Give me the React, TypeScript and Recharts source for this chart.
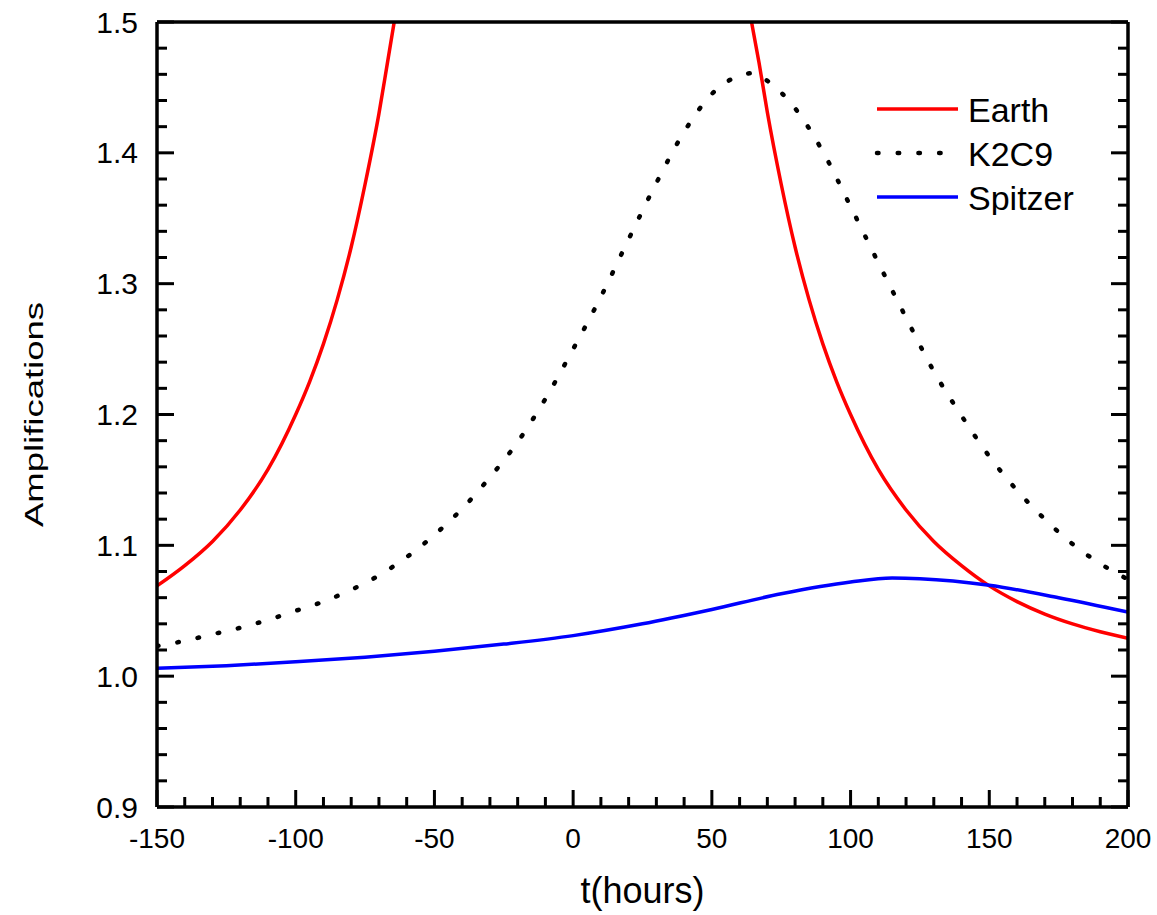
import { LineChart, Line, XAxis, YAxis, Legend, Label } from "recharts";

// axis ticks (major every 50 h / 0.1, minor every 10 h / 0.02)
const xTicks = [
  -150, -140, -130, -120, -110, -100, -90, -80, -70, -60, -50, -40, -30, -20, -10, 0,
  10, 20, 30, 40, 50, 60, 70, 80, 90, 100, 110, 120, 130, 140, 150, 160, 170, 180, 190, 200,
];
const yTicks = [
  0.9, 0.92, 0.94, 0.96, 0.98, 1.0, 1.02, 1.04, 1.06, 1.08, 1.1, 1.12, 1.14, 1.16, 1.18, 1.2,
  1.22, 1.24, 1.26, 1.28, 1.3, 1.32, 1.34, 1.36, 1.38, 1.4, 1.42, 1.44, 1.46, 1.48, 1.5,
];

// Earth (peak runs off the top of the frame)
const earthLeftT = [-150, -140, -130, -120, -110, -100, -95, -90, -85, -80, -75, -70, -67, -64.5];
const earthLeftA = [1.069, 1.0845, 1.103, 1.127, 1.158, 1.2, 1.225, 1.254, 1.288, 1.328, 1.376, 1.43, 1.468, 1.5];
const earthRightT = [64.3, 67, 70, 75, 80, 85, 90, 95, 100, 110, 120, 130, 140, 150, 160, 170, 180, 190, 200];
const earthRightA = [1.5, 1.469, 1.431, 1.376, 1.328, 1.288, 1.254, 1.225, 1.2, 1.158, 1.127, 1.103, 1.0845, 1.069, 1.057, 1.0475, 1.04, 1.034, 1.029];

// K2C9
const k2T = [
  -150, -140, -130, -120, -110, -100, -90, -80, -70, -60, -50, -40, -30, -20, -10, 0, 10, 20, 30,
  40, 50, 60, 65, 70, 80, 90, 100, 110, 120, 130, 140, 150, 160, 170, 180, 190, 200,
];
const k2A = [
  1.023, 1.027, 1.032, 1.037, 1.043, 1.05, 1.057, 1.066, 1.077, 1.091, 1.108, 1.128, 1.152, 1.179,
  1.212, 1.25, 1.29, 1.334, 1.377, 1.416, 1.445, 1.459, 1.461, 1.455, 1.434, 1.401, 1.359, 1.316,
  1.274, 1.233, 1.199, 1.168, 1.142, 1.12, 1.101, 1.086, 1.074,
];

// Spitzer
const spitzerT = [-150, -125, -100, -75, -50, -25, 0, 25, 50, 75, 100, 115, 125, 150, 175, 200];
const spitzerA = [1.006, 1.008, 1.011, 1.0145, 1.019, 1.0245, 1.031, 1.04, 1.051, 1.063, 1.072, 1.075, 1.0745, 1.0695, 1.06, 1.049];

const pts = (ts: number[], as: number[]) => ts.map((t, i) => ({ t, a: as[i] }));

const FONT = "'Liberation Sans', Arial, sans-serif";
const MAJOR = 17;
const MINOR = 10;
const majorX = (v: number) => v % 50 === 0;
const majorY = (v: number) => Math.round(v * 100) % 10 === 0;

const BottomTick = (p: any) => {
  const m = majorX(p.payload.value);
  return (
    <g>
      <line x1={p.x} y1={p.y} x2={p.x} y2={p.y - (m ? MAJOR : MINOR)} stroke="#000" strokeWidth={3} />
      {m && (
        <text x={p.x} y={p.y + 41} textAnchor="middle" fontSize={28} fontFamily={FONT} fill="#000">
          {p.payload.value}
        </text>
      )}
    </g>
  );
};

const TopTick = (p: any) => {
  const m = majorX(p.payload.value);
  return <line x1={p.x} y1={p.y} x2={p.x} y2={p.y + (m ? MAJOR : MINOR)} stroke="#000" strokeWidth={3} />;
};

const LeftTick = (p: any) => {
  const m = majorY(p.payload.value);
  return (
    <g>
      <line x1={p.x} y1={p.y} x2={p.x + (m ? MAJOR : MINOR)} y2={p.y} stroke="#000" strokeWidth={3} />
      {m && (
        <text x={p.x - 19} y={p.y + 10.5} textAnchor="end" fontSize={30} fontFamily={FONT} fill="#000">
          {Number(p.payload.value).toFixed(1)}
        </text>
      )}
    </g>
  );
};

const RightTick = (p: any) => {
  const m = majorY(p.payload.value);
  return <line x1={p.x} y1={p.y} x2={p.x - (m ? MAJOR : MINOR)} y2={p.y} stroke="#000" strokeWidth={3} />;
};

const renderLegend = (props: any) => {
  const items = (props.payload || []).filter((e: any) => e.type !== "none");
  return (
    <svg width={260} height={130}>
      {items.map((e: any, i: number) => {
        const y = 24 + i * 44;
        const dash = e.payload?.strokeDasharray;
        return (
          <g key={e.value}>
            <line
              x1={7}
              x2={88}
              y1={y}
              y2={y}
              stroke={e.color}
              strokeWidth={dash ? 4.5 : 3.5}
              strokeDasharray={dash}
              strokeLinecap={dash ? "round" : "butt"}
            />
            <text x={98} y={y + 12.5} fontSize={34} fontFamily={FONT} fill="#000">
              {e.value}
            </text>
          </g>
        );
      })}
    </svg>
  );
};

const axisLine = { stroke: "#000", strokeWidth: 3.5 };

export default function App() {
  return (
    <div style={{ position: "absolute", left: 0, top: 0, background: "#fff" }}>
      <LineChart width={1157} height={915} margin={{ top: 21, right: 28, bottom: 0, left: 0 }}>
        <XAxis
          xAxisId="b"
          type="number"
          dataKey="t"
          domain={[-150, 200]}
          allowDataOverflow
          ticks={xTicks}
          interval={0}
          height={108}
          tickSize={0}
          tickMargin={0}
          tickLine={false}
          axisLine={axisLine}
          tick={BottomTick}
        >
          <Label
            content={(lp: any) => {
              const vb = lp.viewBox;
              return (
                <text x={vb.x + vb.width / 2} y={vb.y + 96} textAnchor="middle" fontSize={36} fontFamily={FONT} fill="#000">
                  t(hours)
                </text>
              );
            }}
          />
        </XAxis>
        <XAxis
          xAxisId="top"
          orientation="top"
          type="number"
          domain={[-150, 200]}
          allowDataOverflow
          ticks={xTicks}
          interval={0}
          height={1}
          tickSize={0}
          tickMargin={0}
          tickLine={false}
          axisLine={axisLine}
          tick={TopTick}
        />
        <YAxis
          yAxisId="l"
          type="number"
          domain={[0.9, 1.5]}
          allowDataOverflow
          ticks={yTicks}
          interval={0}
          width={157}
          tickSize={0}
          tickMargin={0}
          tickLine={false}
          axisLine={axisLine}
          tick={LeftTick}
        >
          <Label
            content={(lp: any) => {
              const vb = lp.viewBox;
              return (
                <text
                  transform={`translate(${vb.x + 43}, ${vb.y + vb.height / 2}) rotate(-90)`}
                  textAnchor="middle"
                  fontSize={26}
                  fontFamily={FONT}
                  fill="#000"
                  textLength={225}
                  lengthAdjust="spacingAndGlyphs"
                >
                  Amplifications
                </text>
              );
            }}
          />
        </YAxis>
        <YAxis
          yAxisId="r"
          orientation="right"
          type="number"
          domain={[0.9, 1.5]}
          allowDataOverflow
          ticks={yTicks}
          interval={0}
          width={1}
          tickSize={0}
          tickMargin={0}
          tickLine={false}
          axisLine={axisLine}
          tick={RightTick}
        />
        <Line
          xAxisId="b"
          yAxisId="l"
          data={pts(earthLeftT, earthLeftA)}
          dataKey="a"
          name="Earth"
          type="monotone"
          stroke="#ff0000"
          strokeWidth={3.5}
          dot={false}
          activeDot={false}
          isAnimationActive={false}
        />
        <Line
          xAxisId="b"
          yAxisId="l"
          data={pts(earthRightT, earthRightA)}
          dataKey="a"
          name="Earth "
          legendType="none"
          type="monotone"
          stroke="#ff0000"
          strokeWidth={3.5}
          dot={false}
          activeDot={false}
          isAnimationActive={false}
        />
        <Line
          xAxisId="b"
          yAxisId="l"
          data={pts(k2T, k2A)}
          dataKey="a"
          name="K2C9"
          type="monotone"
          stroke="#000"
          strokeWidth={4.5}
          strokeDasharray="1.5 19.2"
          strokeLinecap="round"
          dot={false}
          activeDot={false}
          isAnimationActive={false}
        />
        <Line
          xAxisId="b"
          yAxisId="l"
          data={pts(spitzerT, spitzerA)}
          dataKey="a"
          name="Spitzer"
          type="monotone"
          stroke="#0000ff"
          strokeWidth={3.5}
          dot={false}
          activeDot={false}
          isAnimationActive={false}
        />
        <Legend
          layout="vertical"
          align="center"
          verticalAlign="middle"
          wrapperStyle={{ left: 870, top: 85, width: 260, height: 130 }}
          content={renderLegend}
        />
      </LineChart>
    </div>
  );
}
